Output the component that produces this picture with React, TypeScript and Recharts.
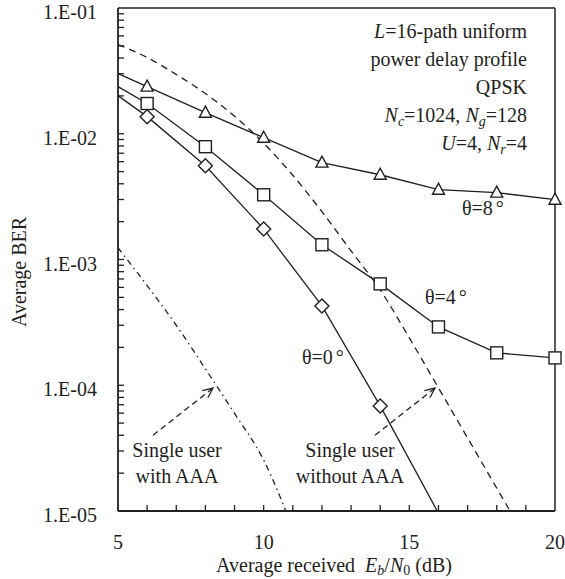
import { LineChart, Line, XAxis, YAxis, ReferenceLine } from 'recharts'

// Eb/N0 (dB) sample points of the simulated curves
const ebn0 = [5, 6, 8, 10, 12, 14, 16, 18, 20]
const ber8 = [0.0301, 0.0237, 0.0147, 0.0093, 0.00589, 0.00472, 0.00359, 0.0034, 0.00299]
const ber4 = [0.0237, 0.0174, 0.00789, 0.00327, 0.00131, 0.00064, 0.000291, 0.000181, 0.000165]
const ebn0Zero = [5, 6, 8, 10, 12, 14, 16]
const ber0 = [0.0201, 0.01368, 0.00557, 0.00175, 0.000427, 0.0000685, 0.0000096]

// single user reference curves
const ebn0NoAaa = [5, 6, 7, 8, 9, 10, 11, 12, 13, 14, 15, 16, 17, 18, 19]
const berNoAaa = [0.0512, 0.0404, 0.0296, 0.0209, 0.0138, 0.0084, 0.00468, 0.0024, 0.00117, 0.000574, 0.000238, 0.0000953, 0.0000381, 0.0000152, 0.0000061]
const ebn0Aaa = [5, 6, 7, 8, 9, 10, 11]
const berAaa = [0.00124, 0.00062, 0.0003, 0.000135, 0.0000597, 0.0000254, 0.0000072]

const xTicks = [5, 6, 7, 8, 9, 10, 11, 12, 13, 14, 15, 16, 17, 18, 19, 20]
const xLabels = [5, 10, 15, 20]
const yMajor = [0.00001, 0.0001, 0.001, 0.01, 0.1]
const yMajorLabels = ['1.E-05', '1.E-04', '1.E-03', '1.E-02', '1.E-01']
const yMinorSteps = [2, 3, 4, 5, 6, 7, 8, 9]

// annotation arrows (data coords): tail -> tip
const arrowTailX = [6.2, 13.82]
const arrowTipX = [8.26, 15.88]
const arrowTailY = 0.00004
const arrowTipY = 0.000095

const toRows = (xs: number[], ys: number[]) => xs.map((x, i) => ({ x, y: ys[i] }))

const yTicks: number[] = []
yMajor.forEach((m, i) => {
  yTicks.push(m)
  if (i < yMajor.length - 1) yMinorSteps.forEach((s) => yTicks.push(+(m * s).toPrecision(3)))
})

const INK = '#231f20'
const FONT = '"Liberation Serif", "Times New Roman", Times, serif'
const textStyle = { fontFamily: FONT, fontSize: 20, fill: INK }

function XTick({ x, y, payload }: any) {
  const v = payload.value
  return (
    <g>
      {v > 5 && v < 20 && <line x1={x} x2={x} y1={y} y2={y - 6} stroke={INK} strokeWidth={1.3} />}
      {xLabels.includes(v) && (
        <text x={x} y={y + 38} textAnchor="middle" style={textStyle}>
          {v}
        </text>
      )}
    </g>
  )
}

function YTick({ x, y, payload }: any) {
  const idx = yMajor.indexOf(payload.value)
  return (
    <g>
      {payload.value > 0.00001 && payload.value < 0.1 && (
        <line x1={x} x2={x + 6} y1={y} y2={y} stroke={INK} strokeWidth={1.3} />
      )}
      {idx >= 0 && (
        <text x={x - 21} y={y + 11} textAnchor="end" style={textStyle}>
          {yMajorLabels[idx]}
        </text>
      )}
    </g>
  )
}

function makeDot(kind: 'tri' | 'sq' | 'dia') {
  return (props: any) => {
    const { cx, cy, payload, index } = props
    const key = `${kind}-${index}`
    if (payload.x === 5 || cy == null || cy > 512) return <g key={key} />
    const st = { fill: '#fff', stroke: INK, strokeWidth: 1.4 }
    if (kind === 'tri')
      return <polygon key={key} points={`${cx},${cy - 6.5} ${cx + 6},${cy + 4.5} ${cx - 6},${cy + 4.5}`} {...st} />
    if (kind === 'sq') return <rect key={key} x={cx - 6} y={cy - 6} width={12} height={12} {...st} />
    return <polygon key={key} points={`${cx},${cy - 7} ${cx + 7},${cy} ${cx},${cy + 7} ${cx - 7},${cy}`} {...st} />
  }
}

function Arrow(props: any) {
  const { x1, y1, x2, y2 } = props
  const ang = Math.atan2(y2 - y1, x2 - x1)
  const len = 11
  const spread = 0.42
  const ax = x2 - len * Math.cos(ang - spread)
  const ay = y2 - len * Math.sin(ang - spread)
  const bx = x2 - len * Math.cos(ang + spread)
  const by = y2 - len * Math.sin(ang + spread)
  return (
    <g>
      <line x1={x1} y1={y1} x2={x2} y2={y2} stroke={INK} strokeWidth={1.3} strokeDasharray="6 4" />
      <polyline points={`${ax},${ay} ${x2},${y2} ${bx},${by}`} fill="none" stroke={INK} strokeWidth={1.3} />
    </g>
  )
}

export default function App() {
  return (
    <div style={{ position: 'absolute', left: 0, top: 0, width: 565, height: 579, background: '#fff', fontFamily: FONT }}>
      <LineChart width={565} height={579} margin={{ top: 8, right: 10, left: 0, bottom: 0 }}>
        <XAxis
          type="number"
          dataKey="x"
          domain={[5, 20]}
          ticks={xTicks}
          interval={0}
          height={68}
          tick={<XTick />}
          tickLine={false}
          tickSize={0}
          tickMargin={0}
          axisLine={{ stroke: INK, strokeWidth: 1.8 }}
          allowDuplicatedCategory={false}
        />
        <YAxis
          type="number"
          scale="log"
          domain={[0.00001, 0.1]}
          allowDataOverflow
          ticks={yTicks}
          interval={0}
          width={118}
          tick={<YTick />}
          tickLine={false}
          tickSize={0}
          tickMargin={0}
          axisLine={{ stroke: INK, strokeWidth: 1.8 }}
        />
        <ReferenceLine y={0.1} stroke={INK} strokeWidth={1.5} ifOverflow="visible" />
        <ReferenceLine x={20} stroke={INK} strokeWidth={1.5} ifOverflow="visible" />
        <Line data={toRows(ebn0NoAaa, berNoAaa)} dataKey="y" type="monotone" stroke={INK} strokeWidth={1.3} strokeDasharray="7 5" dot={false} isAnimationActive={false} />
        <Line data={toRows(ebn0Aaa, berAaa)} dataKey="y" type="monotone" stroke={INK} strokeWidth={1.3} strokeDasharray="6 4 1.5 4" dot={false} isAnimationActive={false} />
        <Line data={toRows(ebn0, ber8)} dataKey="y" type="linear" stroke={INK} strokeWidth={1.3} dot={makeDot('tri')} isAnimationActive={false} />
        <Line data={toRows(ebn0, ber4)} dataKey="y" type="linear" stroke={INK} strokeWidth={1.3} dot={makeDot('sq')} isAnimationActive={false} />
        <Line data={toRows(ebn0Zero, ber0)} dataKey="y" type="linear" stroke={INK} strokeWidth={1.3} dot={makeDot('dia')} isAnimationActive={false} />
        {arrowTailX.map((tx, i) => (
          <ReferenceLine
            key={i}
            segment={[{ x: tx, y: arrowTailY }, { x: arrowTipX[i], y: arrowTipY }]}
            shape={<Arrow />}
            ifOverflow="visible"
          />
        ))}
      </LineChart>
      <svg width={565} height={579} style={{ position: 'absolute', left: 0, top: 0, pointerEvents: 'none' }}>
        <g style={textStyle} textAnchor="end">
          <text x={527} y={38}>
            <tspan fontStyle="italic">L</tspan>=16-path uniform
          </text>
          <text x={527} y={66}>power delay profile</text>
          <text x={527} y={94}>QPSK</text>
          <text x={527} y={122}>
            <tspan fontStyle="italic">N</tspan>
            <tspan fontStyle="italic" fontSize={14} dy={4}>c</tspan>
            <tspan dy={-4}>=1024, </tspan>
            <tspan fontStyle="italic">N</tspan>
            <tspan fontStyle="italic" fontSize={14} dy={4}>g</tspan>
            <tspan dy={-4}>=128</tspan>
          </text>
          <text x={527} y={150}>
            <tspan fontStyle="italic">U</tspan>=4, <tspan fontStyle="italic">N</tspan>
            <tspan fontStyle="italic" fontSize={14} dy={4}>r</tspan>
            <tspan dy={-4}>=4</tspan>
          </text>
        </g>
        <g style={textStyle}>
          <text x={462} y={215}>θ=8<tspan dx={3}>°</tspan></text>
          <text x={425} y={304}>θ=4<tspan dx={3}>°</tspan></text>
          <text x={302} y={364}>θ=0<tspan dx={3}>°</tspan></text>
        </g>
        <g style={textStyle} textAnchor="middle">
          <text x={177} y={457}>Single user</text>
          <text x={177} y={483}>with AAA</text>
          <text x={350} y={457}>Single user</text>
          <text x={350} y={483}>without AAA</text>
          <text x={334} y={572}>
            Average received{'\u00a0\u00a0'}
            <tspan fontStyle="italic">E</tspan>
            <tspan fontStyle="italic" fontSize={14} dy={3}>b</tspan>
            <tspan dy={-3}>/</tspan>
            <tspan fontStyle="italic">N</tspan>
            <tspan fontSize={14} dy={3}>0</tspan>
            <tspan dy={-3}>{'\u00a0'}(dB)</tspan>
          </text>
          <text transform="translate(26,272) rotate(-90)">Average BER</text>
        </g>
      </svg>
    </div>
  )
}
